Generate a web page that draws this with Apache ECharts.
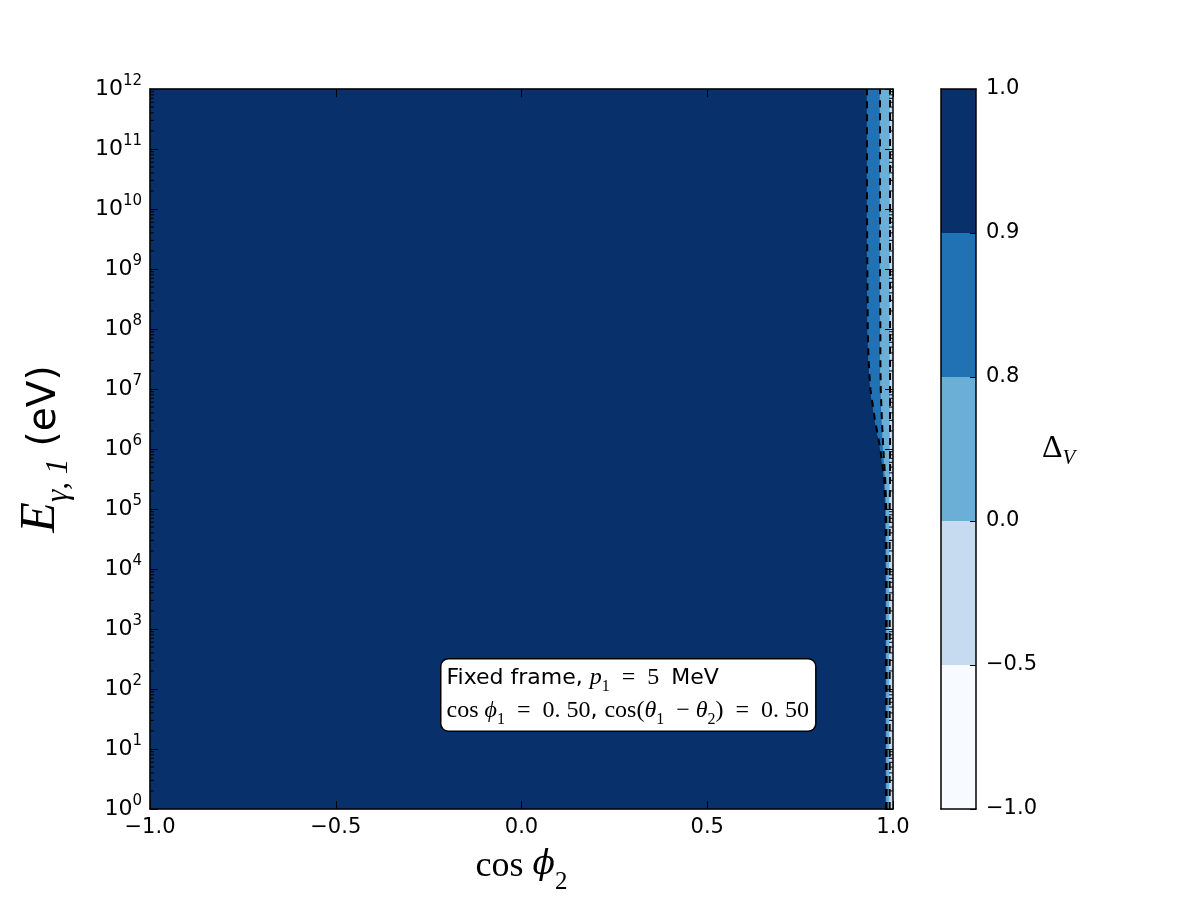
<!DOCTYPE html>
<html>
<head>
<meta charset="utf-8">
<script src="https://cdn.jsdelivr.net/npm/echarts@6/dist/echarts.min.js"></script>
<style>
  html, body { margin: 0; padding: 0; background: #fff; }
  #chart { width: 1200px; height: 900px; }
</style>
</head>
<body>
<div id="chart"></div>
<script>
// contour boundaries (cos phi2 where the level is crossed)
const logE = [0, 1, 2, 3, 4, 5, 5.5, 6, 6.5, 7, 7.5, 8, 9, 10, 11, 12];
const edge09 = [0.981, 0.981, 0.981, 0.981, 0.981, 0.980, 0.976, 0.966, 0.951, 0.939, 0.934, 0.932, 0.931, 0.930, 0.930, 0.930];
const edge08 = [0.983, 0.983, 0.983, 0.983, 0.983, 0.982, 0.979, 0.974, 0.970, 0.967, 0.966, 0.966, 0.965, 0.965, 0.965, 0.965];
const edge00 = [0.991, 0.991, 0.991, 0.991, 0.991, 0.991, 0.992, 0.992, 0.992, 0.992, 0.992, 0.992, 0.992, 0.992, 0.992, 0.992];

// colorbar levels and Blues colours
const levels = [-1.0, -0.5, 0.0, 0.8, 0.9, 1.0];
const levelColors = ['#f7fbff', '#c6dbef', '#6baed6', '#2171b5', '#08306b'];

const xTicks = [-1.0, -0.5, 0.0, 0.5, 1.0];
const decades = [0, 1, 2, 3, 4, 5, 6, 7, 8, 9, 10, 11];
const minorMults = [2, 3, 4, 5, 6, 7, 8, 9];

const MATH = 'Liberation Serif';
const SANS = 'DejaVu Sans';

const fmtNum = (v) => (v < 0 ? '\u2212' : '') + Math.abs(v).toFixed(1);

const energy = logE.map((e) => Math.pow(10, e));
const pts = (xs) => xs.map((x, i) => [x, energy[i]]);
const leftEdge = logE.map(() => xTicks[0]);
const rightEdge = logE.map(() => xTicks[xTicks.length - 1]);

// fills between two boundaries
const bands = [
    { left: leftEdge, right: edge09, color: levelColors[4] },
    { left: edge09, right: edge08, color: levelColors[3] },
    { left: edge08, right: edge00, color: levelColors[2] },
    { left: edge00, right: rightEdge, color: levelColors[1] },
];

// log minor tick positions (2..9 x 10^n)
const minorTicks = [];
decades.forEach((d) => minorMults.forEach((m) => minorTicks.push(m * Math.pow(10, d))));

const chart = echarts.init(document.getElementById('chart'), null, { renderer: 'canvas' });

const bandSeries = bands.map((b) => ({
    type: 'custom',
    xAxisIndex: 0,
    yAxisIndex: 0,
    silent: true,
    data: [[b.left[0], energy[0]]],
    renderItem: (params, api) => {
        const poly = pts(b.left).concat(pts(b.right).reverse());
        return {
            type: 'polygon',
            shape: { points: poly.map((p) => api.coord(p)) },
            style: { fill: b.color, stroke: b.color, lineWidth: 0.5 },
        };
    },
}));

const contourSeries = [edge09, edge08, edge00].map((edge) => ({
    type: 'line',
    xAxisIndex: 0,
    yAxisIndex: 0,
    data: pts(edge),
    showSymbol: false,
    silent: true,
    lineStyle: { color: '#000', width: 2, type: [7, 6] },
    z: 5,
}));

const minorTickSeries = {
    type: 'custom',
    xAxisIndex: 0,
    yAxisIndex: 0,
    silent: true,
    z: 6,
    data: minorTicks.map((v) => [xTicks[0], v]),
    renderItem: (params, api) => {
        const l = api.coord([xTicks[0], api.value(1)]);
        const r = api.coord([xTicks[xTicks.length - 1], api.value(1)]);
        const st = { stroke: '#000', lineWidth: 1 };
        return {
            type: 'group',
            children: [
                { type: 'line', shape: { x1: l[0], y1: l[1], x2: l[0] + 4, y2: l[1] }, style: st },
                { type: 'line', shape: { x1: r[0], y1: r[1], x2: r[0] - 4, y2: r[1] }, style: st },
            ],
        };
    },
};

const colorbarSeries = levelColors.map((c) => ({
    type: 'bar',
    xAxisIndex: 2,
    yAxisIndex: 2,
    stack: 'cb',
    data: [1],
    barWidth: '100%',
    silent: true,
    itemStyle: { color: c },
}));

const spine = { show: true, onZero: false, lineStyle: { color: '#000', width: 1.5 } };
const tickIn = { show: true, inside: true, length: 8, lineStyle: { color: '#000', width: 1 } };

const option = {
    animation: false,
    backgroundColor: '#fff',
    grid: [
        { left: 150, top: 89, width: 743, height: 720 },
        { left: 941, top: 89, width: 35, height: 720 },
    ],
    xAxis: [
        {
            gridIndex: 0, type: 'value', position: 'bottom', z: 10,
            min: -1, max: 1, interval: 0.5,
            axisLine: spine, axisTick: tickIn, splitLine: { show: false },
            axisLabel: { formatter: fmtNum, fontFamily: SANS, fontSize: 21, color: '#000', margin: 8 },
            name: '{m|cos }{mi|\u03d5}{sub|2}',
            nameLocation: 'middle', nameGap: 40,
            nameTextStyle: {
                rich: {
                    m: { fontFamily: MATH, fontSize: 36, color: '#000', verticalAlign: 'top', lineHeight: 46 },
                    mi: { fontFamily: 'DejaVu Serif', fontSize: 33, fontStyle: 'italic', color: '#000', verticalAlign: 'top', lineHeight: 46 },
                    sub: { fontFamily: MATH, fontSize: 25, color: '#000', verticalAlign: 'bottom', lineHeight: 46 },
                },
            },
        },
        {
            gridIndex: 0, type: 'value', position: 'top', z: 10,
            min: -1, max: 1, interval: 0.5,
            axisLine: spine, axisTick: tickIn, axisLabel: { show: false }, splitLine: { show: false },
        },
        {
            gridIndex: 1, type: 'category', position: 'bottom', z: 10, data: [''],
            axisLine: spine, axisTick: { show: false }, axisLabel: { show: false },
        },
        {
            gridIndex: 1, type: 'category', position: 'top', z: 10, data: [''],
            axisLine: spine, axisTick: { show: false }, axisLabel: { show: false },
        },
    ],
    yAxis: [
        {
            gridIndex: 0, type: 'log', logBase: 10, position: 'left', z: 10,
            min: 1, max: 1e12, interval: 1, splitNumber: 12,
            axisLine: spine, axisTick: tickIn, splitLine: { show: false },
            axisLabel: {
                margin: 8,
                formatter: (v) => '{b|10}{s|' + Math.round(Math.log10(v)) + '}',
                rich: {
                    b: { fontFamily: SANS, fontSize: 22, color: '#000', lineHeight: 30, verticalAlign: 'middle' },
                    s: { fontFamily: SANS, fontSize: 15, color: '#000', lineHeight: 30, verticalAlign: 'top' },
                },
            },
            name: '{mi|E}{sub|\u03b3, 1}{t| (eV)}',
            nameLocation: 'middle', nameRotate: 90, nameGap: 76,
            nameTextStyle: {
                rich: {
                    mi: { fontFamily: MATH, fontSize: 50, fontStyle: 'italic', color: '#000', lineHeight: 58, verticalAlign: 'top' },
                    sub: { fontFamily: MATH, fontSize: 31, fontStyle: 'italic', color: '#000', lineHeight: 58, verticalAlign: 'bottom' },
                    t: { fontFamily: SANS, fontSize: 39, color: '#000', lineHeight: 58, verticalAlign: 'middle' },
                },
            },
        },
        {
            gridIndex: 0, type: 'log', logBase: 10, position: 'right', z: 10,
            min: 1, max: 1e12, interval: 1, splitNumber: 12,
            axisLine: spine, axisTick: tickIn, axisLabel: { show: false }, splitLine: { show: false },
        },
        {
            gridIndex: 1, type: 'value', position: 'right', z: 10,
            min: 0, max: levels.length - 1, interval: 1,
            axisLine: spine,
            axisTick: { show: true, inside: true, length: 6, lineStyle: { color: '#000' } },
            splitLine: { show: false },
            axisLabel: { formatter: (v) => fmtNum(levels[v]), fontFamily: SANS, fontSize: 21, color: '#000', margin: 10 },
            name: '{d|\u0394}{sub|V}',
            nameLocation: 'middle', nameRotate: 0, nameGap: 55,
            nameTextStyle: {
                align: 'left',
                rich: {
                    d: { fontFamily: MATH, fontSize: 32, color: '#000', lineHeight: 40, verticalAlign: 'middle' },
                    sub: { fontFamily: MATH, fontSize: 21, fontStyle: 'italic', color: '#000', lineHeight: 40, verticalAlign: 'bottom' },
                },
            },
        },
        {
            gridIndex: 1, type: 'value', position: 'left', z: 10,
            min: 0, max: levels.length - 1,
            axisLine: spine, axisTick: { show: false }, axisLabel: { show: false }, splitLine: { show: false },
        },
    ],
    graphic: [
        {
            type: 'text',
            left: 440,
            top: 658,
            z: 20,
            style: {
                text: '{t|Fixed frame, }{mi|p}{sub|1}{m|  =  5  }{t|MeV}\n' +
                      '{m|cos }{mi|\u03d5}{sub|1}{m|  =  0. 50}{t|, }{m|cos(}{mi|\u03b8}{sub|1}{m|  \u2212 }{mi|\u03b8}{sub|2}{m|)  =  0. 50}',
                backgroundColor: '#fff',
                borderColor: '#000',
                borderWidth: 1.5,
                borderRadius: 7,
                padding: [2, 6, 3, 5],
                rich: {
                    t: { fontFamily: SANS, fontSize: 22, color: '#000', lineHeight: 33 },
                    m: { fontFamily: MATH, fontSize: 24, color: '#000', lineHeight: 33 },
                    mi: { fontFamily: MATH, fontSize: 24, fontStyle: 'italic', color: '#000', lineHeight: 33 },
                    sub: { fontFamily: MATH, fontSize: 16, color: '#000', lineHeight: 33, verticalAlign: 'bottom' },
                },
            },
        },
    ],
    series: [...bandSeries, ...contourSeries, minorTickSeries, ...colorbarSeries],
};

chart.setOption(option);
</script>
</body>
</html>
